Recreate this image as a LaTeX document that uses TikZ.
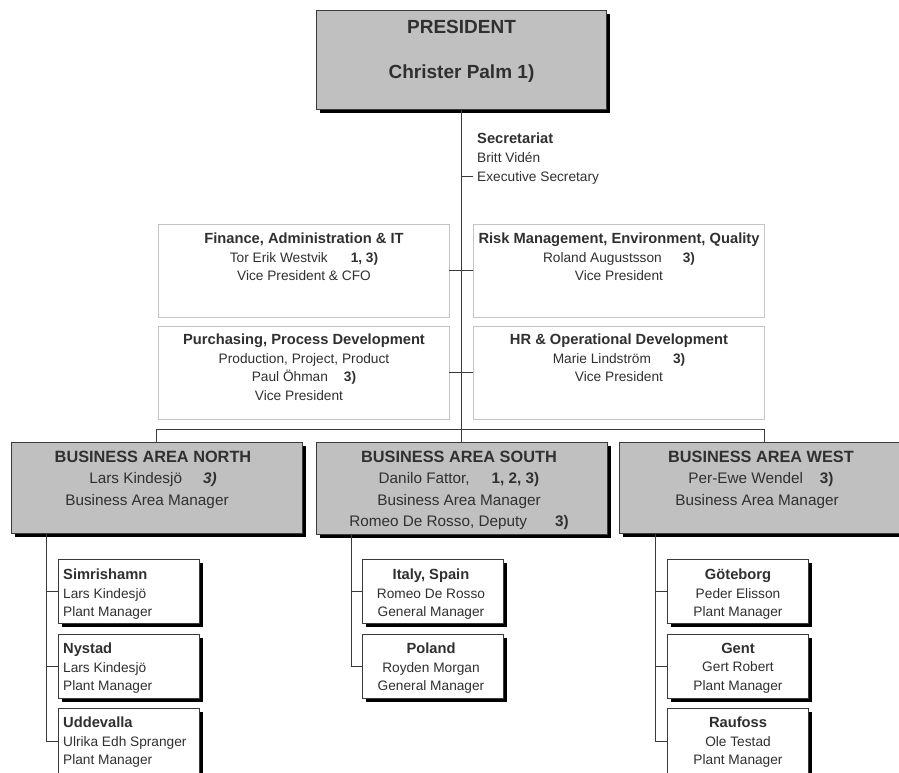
\documentclass[tikz,border=0pt]{standalone}
\usepackage{fontspec}
\setmainfont{Liberation Sans}
\usetikzlibrary{shadows}
\definecolor{ink}{HTML}{303030}
\definecolor{boxgray}{HTML}{C0C0C0}
\definecolor{lightline}{HTML}{C4C4C4}
\definecolor{lineclr}{HTML}{3A3A3A}
\newcommand{\mySmallTitle}{\fontsize{14.7}{18.5}\selectfont\bfseries}
\newcommand{\myBATitle}{\fontsize{16.3}{21.3}\selectfont\bfseries}
\begin{document}
\begin{tikzpicture}[x=1pt,y=-1pt,
  shadowbox/.style={draw=lineclr, line width=1pt, drop shadow={shadow xshift=3.5pt, shadow yshift=-3.5pt, fill=black, opacity=1}},
  presbox/.style={shadowbox, fill=boxgray, minimum width=290pt, minimum height=99pt, inner sep=0pt},
  gbox/.style={shadowbox, fill=boxgray, minimum width=291pt, minimum height=91pt, inner sep=0pt},
  pbox/.style={shadowbox, fill=white, minimum width=141pt, minimum height=64pt, inner sep=0pt},
  pboxlong/.style={pbox, minimum height=66pt},
  sbox/.style={draw=lightline, line width=0.8pt, fill=white, minimum width=291pt, minimum height=93pt, inner sep=0pt},
  link/.style={draw=lineclr, line width=1pt},
  stafftxt/.style={text=ink, inner sep=0pt, anchor=north, align=center, font=\fontsize{13.7}{18.5}\selectfont},
  batxt/.style={text=ink, inner sep=0pt, anchor=north, align=center, font=\fontsize{15.3}{21.3}\selectfont},
  plantL/.style={text=ink, inner sep=0pt, anchor=north west, align=left, font=\fontsize{13.7}{18.5}\selectfont},
  plantC/.style={text=ink, inner sep=0pt, anchor=north, align=center, font=\fontsize{13.7}{18.5}\selectfont}
]
\useasboundingbox[fill=white] (0,0) rectangle (899,772);

% President
\node[presbox] (pres) at (461.5,59.5) {};
\node[text=ink, inner sep=0pt, anchor=north, align=center, font=\fontsize{19}{45}\selectfont\bfseries] (presT) at (461.5,20.5) {PRESIDENT\\Christer Palm 1)};

% trunk and junction
\coordinate (junc) at (461.5,430);
\draw[link] (pres.south) -- (junc);

% Secretariat
\node[plantL, font=\fontsize{13.7}{19}\selectfont] (secT) at (477,132.7) {{\mySmallTitle Secretariat}\\Britt Vidén\\Executive Secretary};
\coordinate (secA) at (461.5,176);
\coordinate (secB) at (473,176);
\draw[link] (secA) -- (secB);

% Staff boxes
\node[sbox] (fin) at (303.5,270.5) {};
\node[sbox] (pur) at (303.5,372.5) {};
\node[sbox] (risk) at (618.5,270.5) {};
\node[sbox] (hr) at (618.5,372.5) {};
\draw[link] (fin.east) -- (risk.west);
\draw[link] (pur.east) -- (hr.west);

\node[stafftxt] (finT) at (304,232.7) {{\mySmallTitle Finance, Administration \& IT}\\Tor Erik Westvik\hspace{23pt}\textbf{1, 3)}\\Vice President \& CFO};
\node[stafftxt] (purT) at (304,333.7) {{\mySmallTitle Purchasing, Process Development}\\Production, Project, Product\hspace*{14pt}\\Paul Öhman\hspace{16pt}\textbf{3)}\\Vice President\hspace*{10pt}};
\node[stafftxt] (riskT) at (619,232.7) {{\mySmallTitle Risk Management, Environment, Quality}\\Roland Augustsson\hspace{21pt}\textbf{3)}\\Vice President};
\node[stafftxt] (hrT) at (619,333.7) {{\mySmallTitle HR \& Operational Development}\\Marie Lindström\hspace{22pt}\textbf{3)}\\Vice President};

% Business areas
\node[gbox] (north) at (156.5,487.5) {};
\node[gbox, minimum height=92pt] (south) at (461.5,488) {};
\node[gbox] (west) at (764.5,487.5) {};
\draw[link] (north.north) -- ++(0,-12) -| (west.north);
\draw[link] (junc) -- (south.north);

\node[batxt] (northT) at (153,451) {{\myBATitle BUSINESS AREA NORTH}\\Lars Kindesjö\hspace{21pt}\textbf{\textit{3)}}\\Business Area Manager\hspace*{12pt}};
\node[batxt] (southT) at (459,451) {{\myBATitle BUSINESS AREA SOUTH}\\Danilo Fattor,\hspace{22pt}\textbf{1, 2, 3)}\\Business Area Manager\hspace*{14pt}\\Romeo De Rosso, Deputy\hspace{28pt}\textbf{3)}};
\node[batxt] (westT) at (761,451) {{\myBATitle BUSINESS AREA WEST}\\Per-Ewe Wendel\hspace{17pt}\textbf{3)}\\Business Area Manager\hspace*{8pt}};

% North plants
\node[pbox] (simr) at (128.5,591.5) {};
\node[pbox] (nyst) at (128.5,666) {};
\node[pboxlong] (udd) at (128.5,741) {};
\coordinate (nb) at (46.7,533);
\draw[link] (nb) |- (udd.west);
\draw[link] (nb |- simr.west) -- (simr.west);
\draw[link] (nb |- nyst.west) -- (nyst.west);
\node[plantL] (simrT) at (63,568.7) {{\mySmallTitle Simrishamn}\\Lars Kindesjö\\Plant Manager};
\node[plantL] (nystT) at (63,642.7) {{\mySmallTitle Nystad}\\Lars Kindesjö\\Plant Manager};
\node[plantL] (uddT) at (63,716.7) {{\mySmallTitle Uddevalla}\\Ulrika Edh Spranger\\Plant Manager};

% South plants
\node[pbox] (ital) at (433,591.5) {};
\node[pbox] (pol) at (433,666) {};
\coordinate (sb) at (351.7,534);
\draw[link] (sb) |- (pol.west);
\draw[link] (sb |- ital.west) -- (ital.west);
\node[plantC] (italT) at (431,568.7) {{\mySmallTitle Italy, Spain}\\Romeo De Rosso\\General Manager};
\node[plantC] (polT) at (431,642.7) {{\mySmallTitle Poland}\\Royden Morgan\\General Manager};

% West plants
\node[pbox] (gote) at (737.5,591.5) {};
\node[pbox] (gent) at (737.5,666) {};
\node[pboxlong] (rauf) at (737.5,741) {};
\coordinate (wb) at (655,533);
\draw[link] (wb) |- (rauf.west);
\draw[link] (wb |- gote.west) -- (gote.west);
\draw[link] (wb |- gent.west) -- (gent.west);
\node[plantC] (goteT) at (738,568.7) {{\mySmallTitle Göteborg}\\Peder Elisson\\Plant Manager};
\node[plantC] (gentT) at (738,642.7) {{\mySmallTitle Gent}\\Gert Robert\\Plant Manager};
\node[plantC] (raufT) at (738,716.7) {{\mySmallTitle Raufoss}\\Ole Testad\\Plant Manager};
\end{tikzpicture}
\end{document}
